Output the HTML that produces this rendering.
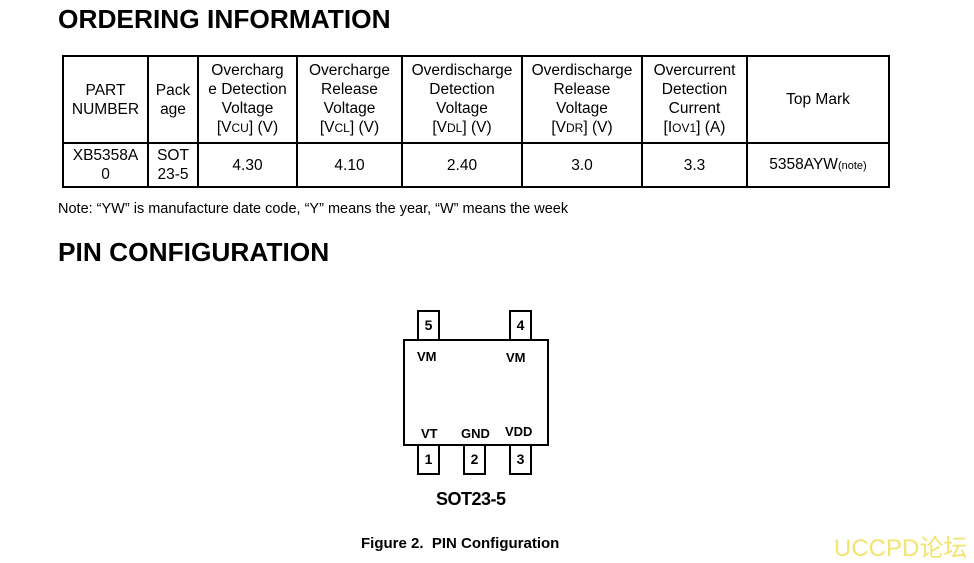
<!DOCTYPE html>
<html><head><meta charset="utf-8"><style>
body{margin:0;width:974px;height:558px;background:#fff;position:relative;overflow:hidden;font-family:"Liberation Sans",Arial,sans-serif;color:#000}
.a{position:absolute}
h1{position:absolute;margin:0;font-size:26.3px;font-weight:bold;left:58px;line-height:1}
.c{position:absolute;text-align:center;font-size:15.5px;line-height:19px;display:flex;align-items:center;justify-content:center;flex-direction:column}
.v{position:absolute;background:#000}
.pin{position:absolute;border:2px solid #000;box-sizing:border-box;width:23px;height:31px;font-weight:bold;font-size:14px;text-align:center;line-height:27px}
.lb{position:absolute;font-weight:bold;font-size:13px}
sm{font-size:12px}
</style></head><body>
<h1 style="top:6px">ORDERING INFORMATION</h1>
<h1 style="top:239px">PIN CONFIGURATION</h1>

<div class="v" style="left:62px;top:55px;width:828px;height:2px"></div>
<div class="v" style="left:62px;top:142px;width:828px;height:2px"></div>
<div class="v" style="left:62px;top:186px;width:828px;height:2px"></div>
<div class="v" style="left:62px;top:55px;width:2px;height:133px"></div>
<div class="v" style="left:147px;top:55px;width:2px;height:133px"></div>
<div class="v" style="left:197px;top:55px;width:2px;height:133px"></div>
<div class="v" style="left:296px;top:55px;width:2px;height:133px"></div>
<div class="v" style="left:401px;top:55px;width:2px;height:133px"></div>
<div class="v" style="left:521px;top:55px;width:2px;height:133px"></div>
<div class="v" style="left:641px;top:55px;width:2px;height:133px"></div>
<div class="v" style="left:746px;top:55px;width:2px;height:133px"></div>
<div class="v" style="left:888px;top:55px;width:2px;height:133px"></div>

<div class="c" style="left:64px;top:57px;width:83px;height:85px">PART<br>NUMBER</div>
<div class="c" style="left:149px;top:57px;width:48px;height:85px">Pack<br>age</div>
<div class="c" style="left:199px;top:57px;width:97px;height:85px">Overcharg<br>e Detection<br>Voltage<br><span>[V<sm>CU</sm>] (V)</span></div>
<div class="c" style="left:298px;top:57px;width:103px;height:85px">Overcharge<br>Release<br>Voltage<br><span>[V<sm>CL</sm>] (V)</span></div>
<div class="c" style="left:403px;top:57px;width:118px;height:85px">Overdischarge<br>Detection<br>Voltage<br><span>[V<sm>DL</sm>] (V)</span></div>
<div class="c" style="left:523px;top:57px;width:118px;height:85px">Overdischarge<br>Release<br>Voltage<br><span>[V<sm>DR</sm>] (V)</span></div>
<div class="c" style="left:643px;top:57px;width:103px;height:85px">Overcurrent<br>Detection<br>Current<br><span>[I<sm>OV1</sm>] (A)</span></div>
<div class="c" style="left:748px;top:57px;width:140px;height:85px">Top Mark</div>

<div class="c" style="left:64px;top:144px;width:83px;height:42px">XB5358A<br>0</div>
<div class="c" style="left:149px;top:144px;width:48px;height:42px">SOT<br>23-5</div>
<div class="c" style="left:199px;top:144px;width:97px;height:42px">4.30</div>
<div class="c" style="left:298px;top:144px;width:103px;height:42px">4.10</div>
<div class="c" style="left:403px;top:144px;width:118px;height:42px">2.40</div>
<div class="c" style="left:523px;top:144px;width:118px;height:42px">3.0</div>
<div class="c" style="left:643px;top:144px;width:103px;height:42px">3.3</div>
<div class="c" style="left:748px;top:144px;width:140px;height:42px"><span>5358AYW<span style="font-size:11px">(note)</span></span></div>

<div class="a" style="left:58px;top:201px;font-size:14.5px">Note: “YW” is manufacture date code, “Y” means the year, “W” means the week</div>

<div class="a" style="left:403px;top:339px;width:146px;height:107px;border:2px solid #000;box-sizing:border-box"></div>
<div class="pin" style="left:417px;top:310px">5</div>
<div class="pin" style="left:509px;top:310px">4</div>
<div class="pin" style="left:417px;top:444px">1</div>
<div class="pin" style="left:463px;top:444px">2</div>
<div class="pin" style="left:509px;top:444px">3</div>
<div class="lb" style="left:417px;top:349px">VM</div>
<div class="lb" style="left:506px;top:350px">VM</div>
<div class="lb" style="left:421px;top:426px">VT</div>
<div class="lb" style="left:461px;top:426px">GND</div>
<div class="lb" style="left:505px;top:424px">VDD</div>
<div class="a" style="left:436px;top:489px;font-weight:bold;font-size:18px;letter-spacing:-0.5px">SOT23-5</div>
<div class="a" style="left:361px;top:535px;font-weight:bold;font-size:15px">Figure 2.&nbsp; PIN Configuration</div>
<div class="a" style="left:834px;top:528px;font-size:24px;color:#f2e46e;font-family:'Liberation Sans','Noto Sans CJK SC',sans-serif">UCCPD论坛</div>
</body></html>
